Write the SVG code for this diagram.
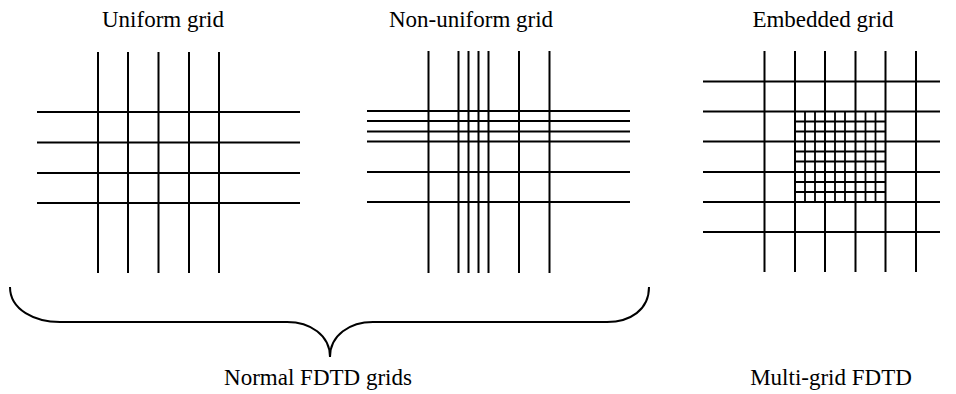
<svg xmlns="http://www.w3.org/2000/svg" width="956" height="394" viewBox="0 0 956 394">
<style>
.ln{stroke:#000;stroke-width:2;fill:none}
.fn{stroke:#000;stroke-width:1.8;fill:none}
text{font-size:23px;fill:#000;text-anchor:middle}
</style>
<rect width="956" height="394" fill="#fff"/>
<g id="uniform-grid">
<path class="ln" d="M98,52V273M128,52V273M158.5,52V273M189,52V273M219,52V273M37,112H300M37,142.5H300M37,173H300M37,203H300"/>
<text style="font-family:Liberation Serif" x="163" y="27">Uniform grid</text>
</g>
<g id="nonuniform-grid">
<path class="ln" d="M428.5,51V273M458.5,51V273M468.5,51V273M478.5,51V273M488.5,51V273M519,51V273M549.5,51V273M367,111H630M367,121H630M367,131.5H630M367,141.5H630M367,172H630M367,202H630"/>
<text style="font-family:'Times New Roman'" x="471" y="27">Non-uniform grid</text>
</g>
<g id="embedded-grid">
<path class="ln" d="M764.5,51V272M795,51V272M825,51V272M855.5,51V272M885.5,51V272M916,51V272M703,81.5H940M703,111.5H940M703,141.5H940M703,172H940M703,202H940M703,232H940"/>
<path class="fn" d="M805,111.5V202M815,111.5V202M835,111.5V202M845,111.5V202M865.5,111.5V202M875.5,111.5V202M795,121.5H885.5M795,131.5H885.5M795,151.5H885.5M795,161.5H885.5M795,182H885.5M795,192H885.5"/>
<text style="font-family:'Times New Roman'" x="823" y="27">Embedded grid</text>
</g>
<g id="connectors">
<path class="ln" d="M10,287C10,310 35,322 60,322L287,322C310,322 330,335 330,357C330,335 350,322 373,322L607,322C630,322 649,310 649,287"/>
</g>
<g id="label-normal">
<text style="font-family:serif" x="318" y="385">Normal FDTD grids</text>
</g>
<g id="label-multigrid">
<text style="font-family:serif" x="831" y="385">Multi-grid FDTD</text>
</g>
</svg>
